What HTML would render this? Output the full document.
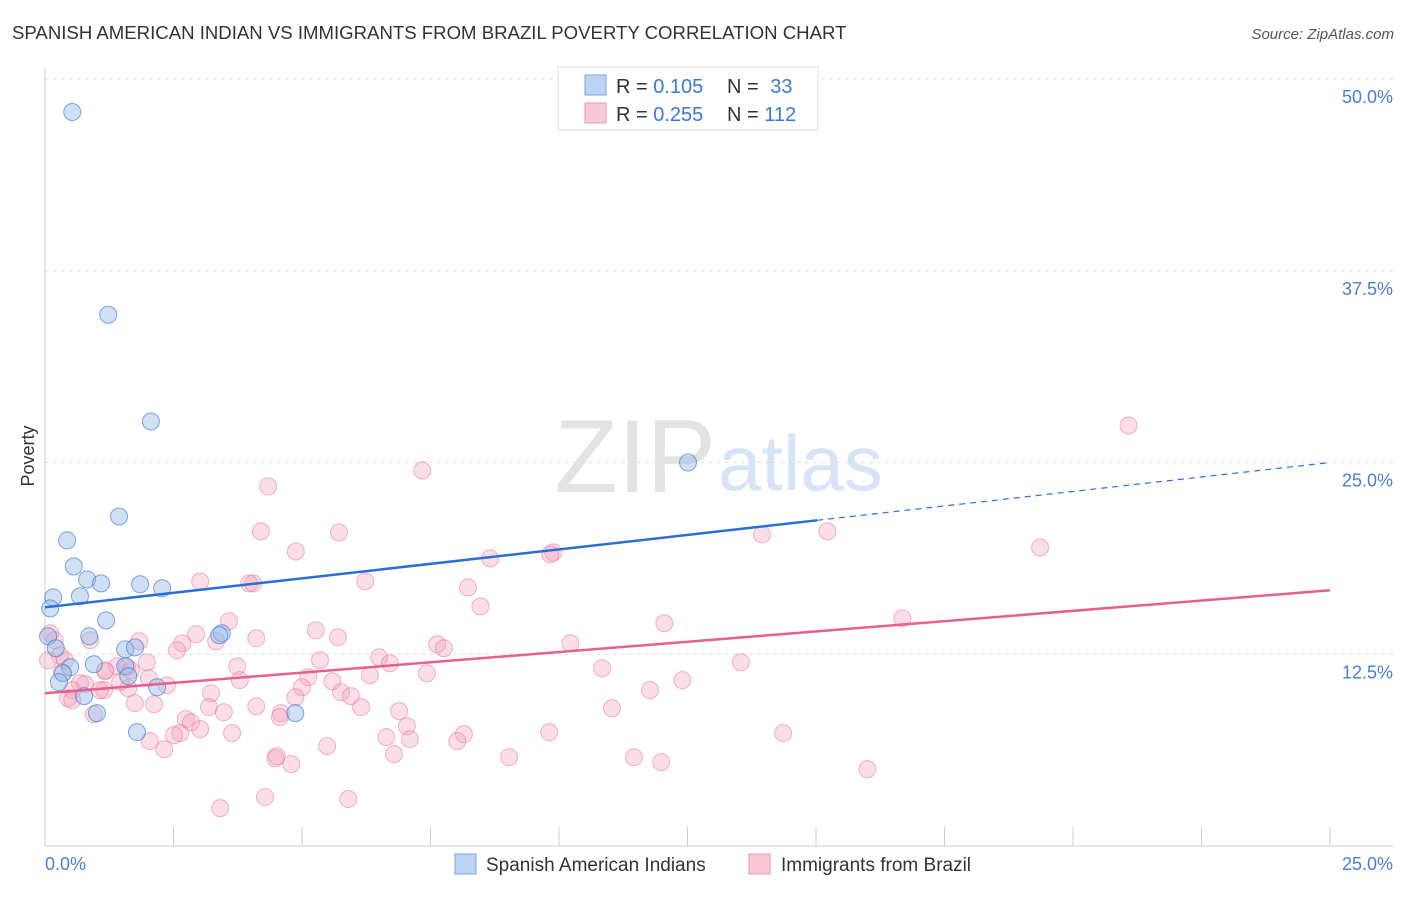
<!DOCTYPE html>
<html><head><meta charset="utf-8"><style>
body{margin:0;background:#fff;font-family:"Liberation Sans",sans-serif;}
svg text{font-family:"Liberation Sans",sans-serif;}
</style></head><body>
<svg id="chart" width="1406" height="892" xmlns="http://www.w3.org/2000/svg">
<text x="12" y="39" font-size="18.6" fill="#333">SPANISH AMERICAN INDIAN VS IMMIGRANTS FROM BRAZIL POVERTY CORRELATION CHART</text>
<text x="1394" y="39" font-size="15" fill="#555" font-style="italic" text-anchor="end">Source: ZipAtlas.com</text>
<text x="716" y="492" font-size="104" fill="#e3e3e3" font-family="Liberation Serif" text-anchor="end">ZIP</text>
<text x="718" y="490" font-size="78" fill="#d6e4f5">atlas</text>
<g id="grid"></g>
<g id="axes"></g>
<g id="marks"></g>
<g id="lines"></g>
<text x="34" y="456" font-size="18" fill="#333" transform="rotate(-90 34 456)" text-anchor="middle">Poverty</text>
<text x="45" y="870" font-size="18" fill="#4a7fd0">0.0%</text>
<text x="1393" y="870" font-size="18" fill="#4a7fd0" text-anchor="end">25.0%</text>
<g>
<rect x="558" y="67" width="260" height="63" fill="#fff" stroke="#ddd"/>
<rect x="585" y="75" width="21" height="20" fill="#bcd4f4" stroke="#7aa3e0"/>
<rect x="585" y="103" width="21" height="20" fill="#f9c9d7" stroke="#ec93ad"/>
<text x="616" y="93" font-size="20" fill="#333">R = <tspan fill="#3b78d8">0.105</tspan></text>
<text x="727" y="93" font-size="20" fill="#333">N = <tspan fill="#3b78d8" dx="6">33</tspan></text>
<text x="616" y="121" font-size="20" fill="#333">R = <tspan fill="#3b78d8">0.255</tspan></text>
<text x="727" y="121" font-size="20" fill="#333">N = <tspan fill="#3b78d8">112</tspan></text>
</g>
<g>
<rect x="455" y="854" width="21" height="20" fill="#bcd4f4" stroke="#7aa3e0"/>
<text x="486" y="871" font-size="19" fill="#333">Spanish American Indians</text>
<rect x="749" y="854" width="21" height="20" fill="#f9c9d7" stroke="#ec93ad"/>
<text x="781" y="871" font-size="19" fill="#333">Immigrants from Brazil</text>
</g>
</svg>
<script>
const yTicks=[12.5,25.0,37.5,50.0];
const yTickLabels=["12.5%","25.0%","37.5%","50.0%"];
const xTicks=[0,2.5,5,7.5,10,12.5,15,17.5,20,22.5,25];
const blueX=[0.53,1.23,2.06,1.44,0.43,0.56,0.16,0.68,0.82,1.09,1.85,2.28,0.10,1.19,0.86,0.06,0.21,1.56,1.75,3.44,3.39,0.49,0.95,1.56,0.35,0.27,1.62,2.18,0.76,1.01,4.87,1.79,12.51];
const blueY=[47.85,34.63,27.67,21.48,19.92,18.23,16.21,16.28,17.38,17.12,17.06,16.80,15.49,14.71,13.67,13.67,12.89,12.82,12.95,13.87,13.74,11.65,11.85,11.72,11.26,10.68,11.07,10.35,9.77,8.66,8.66,7.42,25.0];
const pinkX=[21.08,7.34,4.34,4.20,5.72,15.22,13.95,19.36,4.88,9.89,9.83,8.66,6.23,3.02,4.05,3.97,8.23,8.47,16.68,3.58,12.05,5.27,0.10,2.94,5.70,4.11,10.22,7.63,7.76,3.33,1.83,0.88,2.67,2.57,0.39,5.35,6.50,6.71,13.54,10.84,3.74,1.98,1.40,1.60,1.67,1.17,5.12,6.32,7.43,3.79,5.59,5.00,2.37,1.46,0.68,0.53,12.40,11.77,1.15,3.23,4.87,5.76,5.95,0.45,0.53,2.12,1.75,6.15,11.03,3.19,4.59,6.89,3.48,2.74,2.84,4.57,3.02,7.04,2.63,2.51,3.64,2.04,2.32,8.15,8.02,9.81,6.64,7.10,14.36,5.49,0.95,4.48,4.51,4.79,6.79,9.03,11.46,11.99,16.00,3.41,4.28,5.90,1.07,0.78,0.29,0.19,0.06,2.02,1.62,4.11,1.17,0.33];
const pinkY=[27.41,24.48,23.44,20.51,20.44,20.51,20.31,19.46,19.20,19.14,19.01,18.75,17.25,17.25,17.12,17.12,16.86,15.62,14.84,14.65,14.52,14.06,13.87,13.80,13.61,13.54,13.22,13.15,12.89,13.35,13.35,13.41,13.22,12.76,12.11,12.11,12.30,11.91,11.98,11.59,11.72,11.98,11.72,11.65,11.46,11.39,11.00,11.13,11.26,10.81,10.74,10.35,10.48,10.68,10.61,10.16,10.81,10.16,10.16,9.96,9.70,10.03,9.77,9.63,9.50,9.24,9.31,9.05,8.98,9.05,8.66,8.79,8.72,8.27,8.07,8.40,7.62,7.81,7.36,7.23,7.36,6.84,6.31,7.29,6.84,7.42,7.10,6.97,7.36,6.51,8.59,5.73,5.86,5.34,5.99,5.79,5.79,5.47,5.01,2.47,3.19,3.06,10.16,10.55,12.43,13.41,12.11,10.94,10.29,9.11,11.46,11.33];
const blueTrend=[15.56,25.0];
const blueSolidEnd=15.02;
const pinkTrend=[9.96,16.67];

const NS="http://www.w3.org/2000/svg";
const sx=v=>45+v/25*1285;
const sy=v=>846-v/50*767;
function mk(tag,attrs,parent){const e=document.createElementNS(NS,tag);for(const k in attrs)e.setAttribute(k,attrs[k]);document.getElementById(parent).appendChild(e);return e;}

yTicks.forEach((t,i)=>{
 const g=mk('line',{x1:45,x2:1393,y1:sy(t),y2:sy(t),stroke:'#ddd','stroke-dasharray':'4,4'},'grid');
 
 
 const l=mk('text',{x:1393,y:sy(t)+24,'font-size':18,fill:'#4a7fd0','text-anchor':'end'},'axes');
 l.textContent=yTickLabels[i];
 
 
});
let a=mk('line',{x1:45,x2:45,y1:68,y2:846,stroke:'#ccc'},'axes');


a=mk('line',{x1:45,x2:1393,y1:846,y2:846,stroke:'#ccc'},'axes');


xTicks.forEach(t=>{
 const e=mk('line',{x1:sx(t),x2:sx(t),y1:827,y2:846,stroke:'#ccc'},'axes');
 
 
});
pinkX.forEach((x,i)=>{
 const c=mk('circle',{cx:sx(x),cy:sy(pinkY[i]),r:8.5,fill:'rgba(244,160,186,0.35)',stroke:'rgba(232,120,155,0.55)','stroke-width':1},'marks');
 
 
});
blueX.forEach((x,i)=>{
 const c=mk('circle',{cx:sx(x),cy:sy(blueY[i]),r:8.5,fill:'rgba(150,188,236,0.45)',stroke:'rgba(60,120,210,0.65)','stroke-width':1},'marks');
 
 
});
const bAt=x=>blueTrend[0]+(blueTrend[1]-blueTrend[0])*x/25;
let l=mk('line',{x1:sx(0),y1:sy(blueTrend[0]),x2:sx(blueSolidEnd),y2:sy(bAt(blueSolidEnd)),stroke:'#2a6fd6','stroke-width':2.5},'lines');


l=mk('line',{x1:sx(blueSolidEnd),y1:sy(bAt(blueSolidEnd)),x2:sx(25),y2:sy(blueTrend[1]),stroke:'#2a6fd6','stroke-width':1.2,'stroke-dasharray':'6,5'},'lines');


l=mk('line',{x1:sx(0),y1:sy(pinkTrend[0]),x2:sx(25),y2:sy(pinkTrend[1]),stroke:'#e5608d','stroke-width':2.5},'lines');


</script>
</body></html>
